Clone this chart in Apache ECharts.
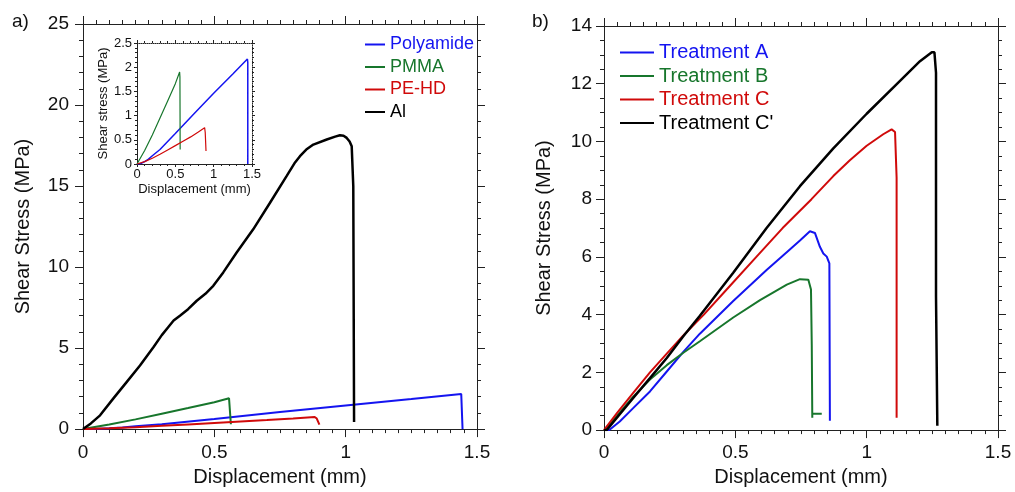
<!DOCTYPE html>
<html>
<head>
<meta charset="utf-8">
<script src="https://cdn.jsdelivr.net/npm/echarts@6/dist/echarts.min.js"></script>
<style>
  html, body { margin: 0; padding: 0; background: #fff; }
  #chart { width: 1015px; height: 492px; }
</style>
</head>
<body>
<div id="chart"></div>
<script>
// panel a: displacement (mm), shear stress (MPa)
const polyamide = [[0, 0], [0.05, 0.01], [0.1, 0.05], [0.15, 0.1], [0.2, 0.17], [0.3, 0.3], [0.5, 0.63], [0.75, 1.05], [1.0, 1.46], [1.25, 1.86], [1.44, 2.17], [1.445, 2.1], [1.445, 0]]
const pmma = [[0, 0], [0.1, 0.28], [0.2, 0.6], [0.3, 0.95], [0.4, 1.3], [0.5, 1.66], [0.556, 1.9], [0.56, 1.8], [0.563, 0.3]]
const pehd = [[0, 0], [0.1, 0.05], [0.2, 0.12], [0.3, 0.2], [0.4, 0.29], [0.5, 0.38], [0.6, 0.47], [0.7, 0.56], [0.8, 0.66], [0.882, 0.75], [0.89, 0.65], [0.9, 0.27]]
const al = [[0, 0], [0.03, 0.35], [0.065, 0.85], [0.115, 1.88], [0.166, 2.9], [0.217, 3.92], [0.268, 5.05], [0.3, 5.8], [0.325, 6.3], [0.345, 6.7], [0.369, 7.0], [0.4, 7.4], [0.433, 7.92], [0.466, 8.35], [0.496, 8.84], [0.534, 9.67], [0.585, 10.9], [0.648, 12.33], [0.712, 13.97], [0.775, 15.61], [0.805, 16.4], [0.826, 16.84], [0.85, 17.25], [0.877, 17.56], [0.928, 17.87], [0.96, 18.05], [0.978, 18.13], [0.992, 18.1], [1.004, 17.97], [1.015, 17.75], [1.023, 17.45], [1.029, 15.0], [1.032, 0.44]]

// panel b
const treatA = [[0, 0], [0.02, 0], [0.06, 0.3], [0.112, 0.77], [0.175, 1.34], [0.239, 2.03], [0.302, 2.71], [0.365, 3.34], [0.492, 4.47], [0.619, 5.55], [0.7, 6.2], [0.746, 6.57], [0.784, 6.89], [0.803, 6.83], [0.822, 6.35], [0.835, 6.12], [0.848, 6.01], [0.858, 5.78], [0.86, 0.32]]
const treatB = [[0, 0], [0.05, 0.5], [0.112, 1.17], [0.175, 1.75], [0.239, 2.25], [0.302, 2.68], [0.365, 3.08], [0.492, 3.9], [0.594, 4.5], [0.65, 4.8], [0.696, 5.04], [0.746, 5.23], [0.778, 5.21], [0.788, 4.87], [0.791, 2.94], [0.793, 0.43], [0.793, 0.57], [0.829, 0.57]]
const treatC = [[0, 0], [0.05, 0.6], [0.112, 1.3], [0.175, 2.0], [0.239, 2.65], [0.302, 3.28], [0.38, 4.0], [0.48, 5.0], [0.58, 6.0], [0.68, 7.0], [0.79, 8.0], [0.873, 8.8], [0.936, 9.35], [1.0, 9.85], [1.063, 10.25], [1.095, 10.42], [1.108, 10.33], [1.114, 8.74], [1.114, 0.43]]
const treatC2 = [[0, 0], [0.01, 0], [0.06, 0.55], [0.112, 1.12], [0.175, 1.8], [0.239, 2.5], [0.302, 3.25], [0.365, 3.96], [0.492, 5.45], [0.619, 7.0], [0.746, 8.45], [0.873, 9.76], [1.0, 10.96], [1.127, 12.1], [1.203, 12.78], [1.248, 13.09], [1.258, 13.09], [1.264, 12.38], [1.264, 4.64], [1.269, 0.15]]

const colors = {
  'Polyamide': '#1414f0',
  'PMMA': '#17762c',
  'PE-HD': '#d00a0a',
  'Al': '#000000',
  'Treatment A': '#1414f0',
  'Treatment B': '#17762c',
  'Treatment C': '#d00a0a',
  "Treatment C'": '#000000'
}

const font = 'Liberation Sans, Arial, sans-serif'
const axisColor = '#222'

function makeAxis(gridIndex, position, opts) {
  const a = {
    type: 'value',
    gridIndex: gridIndex,
    position: position,
    min: opts.min,
    max: opts.max,
    interval: opts.interval,
    splitLine: { show: false },
    axisLine: { show: true, onZero: false, lineStyle: { color: axisColor, width: 1, type: opts.dotted ? 'dotted' : 'solid' } },
    axisTick: { show: true, inside: false, length: opts.tick || 8, lineStyle: { color: axisColor } },
    minorTick: { show: true, splitNumber: opts.minor, length: opts.minorLen || 4, lineStyle: { color: axisColor } },
    axisLabel: {
      show: !!opts.labels,
      color: '#111',
      fontFamily: font,
      fontSize: opts.fontSize || 19,
      margin: opts.margin || 10,
      formatter: v => String(+v.toFixed(2))
    }
  }
  if (opts.name) {
    a.name = opts.name
    a.nameLocation = 'middle'
    a.nameGap = opts.nameGap
    a.nameTextStyle = { fontFamily: font, fontSize: opts.nameSize || 20, color: '#111' }
  }
  return a
}

function line(name, data, xi, yi, width) {
  return {
    name: name,
    type: 'line',
    data: data,
    xAxisIndex: xi,
    yAxisIndex: yi,
    showSymbol: false,
    animation: false,
    lineStyle: { color: colors[name], width: width },
    itemStyle: { color: colors[name] }
  }
}

const chart = echarts.init(document.getElementById('chart'))
chart.setOption({
  backgroundColor: '#fff',
  animation: false,
  graphic: [
    { type: 'text', left: 12, top: 12, style: { text: 'a)', font: '19px ' + font, fill: '#111' } },
    { type: 'text', left: 532, top: 12, style: { text: 'b)', font: '19px ' + font, fill: '#111' } }
  ],
  grid: [
    { left: 83, top: 24, width: 394, height: 406 },
    { left: 137, top: 43, width: 115, height: 121 },
    { left: 604, top: 26, width: 394, height: 410 }
  ],
  xAxis: [
    makeAxis(0, 'bottom', { min: 0, max: 1.5, interval: 0.5, minor: 10, labels: true, margin: 14, name: 'Displacement (mm)', nameGap: 37 }),
    makeAxis(0, 'top', { min: 0, max: 1.5, interval: 0.5, minor: 10 }),
    makeAxis(1, 'bottom', { min: 0, max: 1.5, interval: 0.5, minor: 5, labels: true, fontSize: 13, margin: 4, tick: 3, minorLen: 2, name: 'Displacement (mm)', nameGap: 19, nameSize: 13 }),
    makeAxis(1, 'top', { min: 0, max: 1.5, interval: 0.5, minor: 5, tick: 3, minorLen: 2, dotted: true }),
    makeAxis(2, 'bottom', { min: 0, max: 1.5, interval: 0.5, minor: 10, labels: true, margin: 13, name: 'Displacement (mm)', nameGap: 36 }),
    makeAxis(2, 'top', { min: 0, max: 1.5, interval: 0.5, minor: 10 })
  ],
  yAxis: [
    makeAxis(0, 'left', { min: 0, max: 25, interval: 5, minor: 5, labels: true, margin: 14, name: 'Shear Stress (MPa)', nameGap: 50 }),
    makeAxis(0, 'right', { min: 0, max: 25, interval: 5, minor: 5 }),
    makeAxis(1, 'left', { min: 0, max: 2.5, interval: 0.5, minor: 5, labels: true, fontSize: 13, margin: 5, tick: 3, minorLen: 2, name: 'Shear stress (MPa)', nameGap: 26, nameSize: 13 }),
    makeAxis(1, 'right', { min: 0, max: 2.5, interval: 0.5, minor: 5, tick: 3, minorLen: 2, dotted: true }),
    makeAxis(2, 'left', { min: 0, max: 14, interval: 2, minor: 4, labels: true, margin: 12, name: 'Shear Stress (MPa)', nameGap: 50 }),
    makeAxis(2, 'right', { min: 0, max: 14, interval: 2, minor: 4 })
  ],
  legend: [
    {
      orient: 'vertical',
      left: 360,
      top: 30,
      itemWidth: 20,
      itemHeight: 2,
      itemGap: 3.5,
      icon: 'rect',
      textStyle: { fontFamily: font, fontSize: 18, lineHeight: 19 },
      data: ['Polyamide', 'PMMA', 'PE-HD', 'Al'].map(n => ({ name: n, textStyle: { color: colors[n] } }))
    },
    {
      orient: 'vertical',
      left: 615,
      top: 37,
      itemWidth: 34,
      itemHeight: 2,
      itemGap: 2.5,
      icon: 'rect',
      textStyle: { fontFamily: font, fontSize: 20, lineHeight: 21 },
      data: ['Treatment A', 'Treatment B', 'Treatment C', "Treatment C'"].map(n => ({ name: n, textStyle: { color: colors[n] } }))
    }
  ],
  series: [
    line('Polyamide', polyamide, 0, 0, 2),
    line('PMMA', pmma, 0, 0, 2),
    line('PE-HD', pehd, 0, 0, 2),
    line('Al', al, 0, 0, 2.5),
    line('Polyamide', polyamide, 2, 2, 1.5),
    line('PMMA', pmma, 2, 2, 1.2),
    line('PE-HD', pehd, 2, 2, 1.2),
    line('Treatment A', treatA, 4, 4, 2),
    line('Treatment B', treatB, 4, 4, 2),
    line('Treatment C', treatC, 4, 4, 2),
    line("Treatment C'", treatC2, 4, 4, 2.5)
  ]
})
</script>
</body>
</html>
